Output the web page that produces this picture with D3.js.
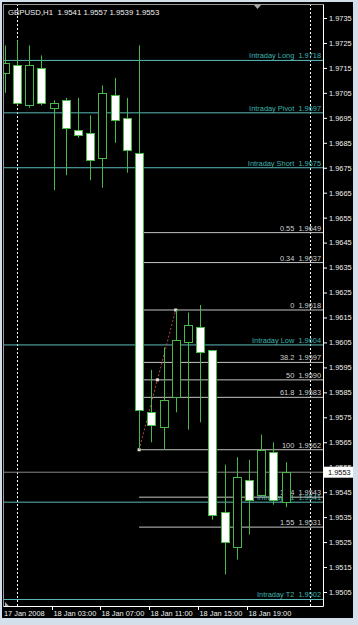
<!DOCTYPE html>
<html>
<head>
<meta charset="utf-8">
<title>GBPUSD,H1</title>
<script src="https://d3js.org/d3.v7.min.js"></script>
<style>
  html, body { margin: 0; padding: 0; background: #d5dfeb; }
  svg { display: block; }
  text { font-family: "Liberation Sans", Arial, sans-serif; font-size: 7.4px; white-space: pre; }
</style>
</head>
<body>
<script>
// hourly bars, offset in hours from 18 Jan 2008 00:00
const hours = d3.range(-1, 23);
const open  = [1.9713, 1.9716, 1.9700, 1.9715, 1.9699, 1.9702, 1.9690, 1.9689, 1.9679, 1.9704, 1.9695, 1.9681,
               1.9577, 1.9571, 1.9583, 1.9605, 1.9611, 1.9602, 1.9537, 1.9523, 1.9550, 1.9544, 1.9561, 1.9541];
const high  = [1.9724, 1.9726, 1.9724, 1.9720, 1.9702, 1.9703, 1.9703, 1.9696, 1.9708, 1.9711, 1.9703, 1.9724,
               1.9594, 1.9603, 1.9618, 1.9617, 1.9620, 1.9602, 1.9556, 1.9559, 1.9558, 1.9568, 1.9565, 1.9557];
const low   = [1.9705, 1.9700, 1.9699, 1.9700, 1.9666, 1.9672, 1.9687, 1.9670, 1.9667, 1.9685, 1.9673, 1.9562,
               1.9565, 1.9562, 1.9577, 1.9570, 1.9573, 1.9534, 1.9512, 1.9518, 1.9528, 1.9544, 1.9540, 1.9539];
const close = [1.9717, 1.9701, 1.9716, 1.9701, 1.9701, 1.9691, 1.9688, 1.9678, 1.9705, 1.9694, 1.9682, 1.9578,
               1.9572, 1.9582, 1.9606, 1.9612, 1.9601, 1.9536, 1.9525, 1.9551, 1.9542, 1.9562, 1.9542, 1.9553];

// indicator levels
const levelNames  = ['Intraday Long', 'Intraday Pivot', 'Intraday Short', 'Intraday Low', 'Intraday T1', 'Intraday T2'];
const levelValues = [1.9718, 1.9697, 1.9675, 1.9604, 1.9541, 1.9502];

// fibonacci drawn from the 10:00 low to the 13:00 high
const fibLabels = ['0.55', '0.34', '0', '38.2', '50', '61.8', '100', '1.34', '1.55'];
const fibValues = [1.9649, 1.9637, 1.9618, 1.9597, 1.9590, 1.9583, 1.9562, 1.9543, 1.9531];
const fibHours  = [10, 13];
const fibPrices = [1.9562, 1.9618];

const priceTicks = d3.range(0, 24).map(k => 1.9505 + k * 0.001);
const timeTicks  = [3, 7, 11, 15, 19];
const bid = 1.9553;

const W = 358, H = 625;
const pL = 4, pR = 323, pT = 4, pB = 606;
const green = '#46b946', teal = '#5cbaba', tealText = '#3fb3ad';

const hourDate = h => new Date(2008, 0, 18, h);
const x = d3.scaleTime().domain([hourDate(0), hourDate(24)]).range([17, 310]);
const y = d3.scaleLinear().domain([1.9735, 1.9505]).range([18, 592]);
const fmt = d3.format('.4f');

const svg = d3.select('body').append('svg').attr('width', W).attr('height', H);

svg.append('rect').attr('x', 2).attr('y', 2).attr('width', 351).attr('height', 616).attr('fill', '#000');

svg.append('clipPath').attr('id', 'plot')
  .append('rect').attr('x', pL).attr('y', pT + 1).attr('width', pR - pL).attr('height', pB - pT - 1);

const plot = svg.append('g').attr('clip-path', 'url(#plot)');

// day separators
plot.selectAll('.sep')
  .data([0, 24])
  .enter().append('line')
  .attr('x1', d => Math.round(x(hourDate(d))) + 0.5)
  .attr('x2', d => Math.round(x(hourDate(d))) + 0.5)
  .attr('y1', pT).attr('y2', pB)
  .attr('stroke', '#fff').attr('stroke-dasharray', '2,2');

// indicator lines
const lv = plot.selectAll('.level')
  .data(levelValues)
  .enter().append('g');
lv.append('line')
  .attr('x1', pL).attr('x2', pR)
  .attr('y1', d => y(d)).attr('y2', d => y(d))
  .attr('stroke', teal);
lv.append('text')
  .attr('x', pR - 2).attr('y', d => y(d) - 2)
  .attr('text-anchor', 'end').attr('fill', tealText)
  .text((d, i) => levelNames[i] + '  ' + fmt(d));

// fibonacci levels
const fx0 = x(hourDate(fibHours[0]));
const fb = plot.selectAll('.fib')
  .data(fibValues)
  .enter().append('g');
fb.append('line')
  .attr('x1', fx0).attr('x2', pR)
  .attr('y1', d => y(d)).attr('y2', d => y(d))
  .attr('stroke', '#c4c4c4');
fb.append('text')
  .attr('x', pR - 2).attr('y', d => y(d) - 2)
  .attr('text-anchor', 'end').attr('fill', '#d0d0d0')
  .text((d, i) => fibLabels[i] + '  ' + fmt(d));

// bid line
plot.append('line')
  .attr('x1', pL).attr('x2', pR)
  .attr('y1', y(bid)).attr('y2', y(bid))
  .attr('stroke', '#8a8a8a');

// fibo trend line
const fp = fibHours.map((h, i) => [x(hourDate(h)), y(fibPrices[i])]);
plot.append('line')
  .attr('x1', fp[0][0]).attr('y1', fp[0][1])
  .attr('x2', fp[1][0]).attr('y2', fp[1][1])
  .attr('stroke', '#b34a4a').attr('stroke-dasharray', '2,2');
const mid = [(fp[0][0] + fp[1][0]) / 2, (fp[0][1] + fp[1][1]) / 2];
plot.selectAll('.anchor')
  .data([fp[0], mid, fp[1]])
  .enter().append('rect')
  .attr('x', d => d[0] - 1.5).attr('y', d => d[1] - 1.5)
  .attr('width', 3).attr('height', 3)
  .attr('fill', '#f0e0d8');

// candles
const bars = hours.map((h, i) => ({ t: hourDate(h), o: open[i], h: high[i], l: low[i], c: close[i] }));
const candle = plot.selectAll('.candle')
  .data(bars)
  .enter().append('g')
  .attr('transform', d => `translate(${Math.round(x(d.t))},0)`);
candle.append('line')
  .attr('x1', 0.5).attr('x2', 0.5)
  .attr('y1', d => y(d.h)).attr('y2', d => y(d.l))
  .attr('stroke', green);
candle.append('rect')
  .attr('x', -3.5).attr('width', 8)
  .attr('y', d => Math.round(y(Math.max(d.o, d.c))) + 0.5)
  .attr('height', d => Math.max(1, Math.round(y(Math.min(d.o, d.c))) - Math.round(y(Math.max(d.o, d.c)))))
  .attr('fill', d => d.c < d.o ? '#fff' : '#000')
  .attr('stroke', green);

// frame
svg.append('path')
  .attr('d', `M${pL - 0.5},${pB + 0.5}V${pT + 0.5}H${pR + 0.5}`)
  .attr('fill', 'none').attr('stroke', '#9a9a9a');
svg.append('path')
  .attr('d', `M${pL - 0.5},${pB + 0.5}H${pR + 0.5}V${pT + 0.5}`)
  .attr('fill', 'none').attr('stroke', '#fff');

// price axis
const ya = svg.append('g')
  .attr('transform', `translate(${pR + 1},0)`)
  .call(d3.axisRight(y).tickValues(priceTicks).tickFormat(fmt).tickSize(3).tickSizeOuter(0).tickPadding(2));
ya.select('.domain').remove();
ya.selectAll('line').attr('stroke', '#fff');
ya.selectAll('text').attr('fill', '#f0f0f0');
ya.attr('font-size', null).attr('font-family', null);

// current price tag
svg.append('rect')
  .attr('x', pR + 1).attr('y', y(bid) - 5.5)
  .attr('width', 29).attr('height', 11)
  .attr('fill', '#fff');
svg.append('text')
  .attr('x', pR + 5).attr('y', y(bid)).attr('dy', '0.35em')
  .attr('fill', '#000').text(fmt(bid));

// time axis
const xa = svg.append('g')
  .attr('transform', `translate(0,${pB + 1})`)
  .call(d3.axisBottom(x).tickValues(timeTicks.map(hourDate)).tickFormat(d3.timeFormat('%d %b %H:%M'))
    .tickSize(3).tickSizeOuter(0));
xa.select('.domain').remove();
xa.selectAll('.tick').attr('transform', d => `translate(${Math.round(x(d)) - 1.5},0)`);
xa.selectAll('line').attr('stroke', '#fff');
xa.selectAll('text').attr('fill', '#f0f0f0').attr('text-anchor', 'start')
  .attr('x', 1).attr('y', 9).attr('dy', 0);
xa.attr('font-size', null).attr('font-family', null);
svg.append('text')
  .attr('x', pL).attr('y', pB + 10)
  .attr('fill', '#f0f0f0')
  .text(d3.timeFormat('%d %b %Y')(hourDate(hours[0])));

// header
svg.append('text')
  .attr('x', 8).attr('y', 15).attr('fill', '#f0f0f0')
  .style('font-size', '7.8px')
  .text(`GBPUSD,H1  ${fmt(open[23])} ${fmt(high[23])} ${fmt(low[23])} ${fmt(close[23])}`);

// chart shift marker and corner marker
svg.append('path').attr('d', 'M254,5H261L257.5,9Z').attr('fill', '#a8a8a8');
svg.append('path').attr('d', 'M5,602L5,606L9,606Z').attr('fill', '#a8a8a8');
</script>
</body>
</html>
